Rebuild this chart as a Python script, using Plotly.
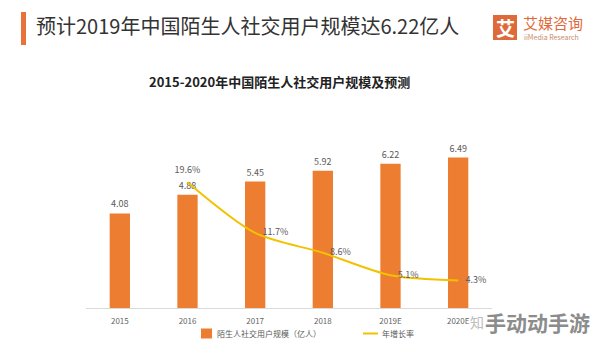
import plotly.graph_objects as go

categories = ["2015", "2016", "2017", "2018", "2019E", "2020E"]
users = [4.08, 4.88, 5.45, 5.92, 6.22, 6.49]
growth_cats = ["2016", "2017", "2018", "2019E", "2020E"]
growth = [19.6, 11.7, 8.6, 5.1, 4.3]
growth_labels = ["19.6%", "11.7%", "8.6%", "5.1%", "4.3%"]
growth_pos = ["top center", "middle right", "middle right", "middle right", "middle right"]

W, H = 594, 339
ML, MR, MT, MB = 86, 102, 100, 31
PW, PH = W - ML - MR, H - MT - MB

def px(x):
    return (x - ML) / PW

def py(y):
    return (H - MB - y) / PH

FONT = "Noto Sans CJK SC"
ORANGE = "#ED7D31"
YELLOW = "#F2C200"
LEG_Y = 333.5

fig = go.Figure()
fig.add_trace(go.Bar(
    x=categories, y=users, name="陌生人社交用户规模（亿人）",
    marker=dict(color=ORANGE, line=dict(width=0)),
    width=0.3,
    text=[f"{v:.2f}" for v in users], textposition="outside",
    textfont=dict(size=9, color="#595959", family=FONT),
    cliponaxis=False, showlegend=False,
))
fig.add_trace(go.Scatter(
    x=growth_cats, y=growth, name="年增长率", yaxis="y2",
    mode="lines+markers+text",
    line=dict(color=YELLOW, width=2, shape="spline", smoothing=0.8),
    marker=dict(size=10, color="rgba(0,0,0,0)", line=dict(width=0)),
    text=growth_labels, textposition=growth_pos,
    textfont=dict(size=9, color="#595959", family=FONT),
    cliponaxis=False, showlegend=False,
))

fig.update_layout(
    width=W, height=H,
    margin=dict(l=ML, r=MR, t=MT, b=MB, pad=0),
    paper_bgcolor="white", plot_bgcolor="white",
    font=dict(family=FONT, color="#595959"),
    bargap=0.7,
    xaxis=dict(
        type="category", categoryorder="array", categoryarray=categories,
        range=[-0.5, 5.5],
        showline=True, linecolor="#d9d9d9", linewidth=1,
        showgrid=False, zeroline=False,
        ticks="outside", ticklen=5, tickcolor="rgba(0,0,0,0)",
        tickfont=dict(size=8, color="#666666", family=FONT),
    ),
    yaxis=dict(range=[0, 8.97], visible=False, showgrid=False),
    yaxis2=dict(range=[0, 32.4], overlaying="y", side="right",
                visible=False, showgrid=False),
    shapes=[
        # header accent bar
        dict(type="rect", xref="paper", yref="paper",
             x0=px(21), x1=px(26), y0=py(45), y1=py(12),
             fillcolor="#E8713C", line=dict(width=0)),
        # logo square
        dict(type="rect", xref="paper", yref="paper",
             x0=px(493), x1=px(517), y0=py(40), y1=py(15),
             fillcolor="#DE6A3A", line=dict(width=0)),
        # legend swatches
        dict(type="rect", xref="paper", yref="paper",
             x0=px(201), x1=px(212), y0=py(LEG_Y + 5), y1=py(LEG_Y - 5),
             fillcolor=ORANGE, line=dict(width=0)),
        dict(type="line", xref="paper", yref="paper",
             x0=px(363), x1=px(378), y0=py(LEG_Y), y1=py(LEG_Y),
             line=dict(color=YELLOW, width=2)),
    ],
    annotations=[
        dict(text="预计2019年中国陌生人社交用户规模达6.22亿人",
             x=px(34), y=py(26), xref="paper", yref="paper",
             xanchor="left", yanchor="middle", showarrow=False,
             font=dict(size=20, color="#333333", family=FONT)),
        dict(text="艾", x=px(505), y=py(27.5), xref="paper", yref="paper",
             xanchor="center", yanchor="middle", showarrow=False,
             font=dict(size=19, color="white", family=FONT, weight="bold")),
        dict(text="艾媒咨询", x=px(521), y=py(22), xref="paper", yref="paper",
             xanchor="left", yanchor="middle", showarrow=False,
             font=dict(size=15, color="#DE6A3A", family=FONT)),
        dict(text="iiMedia Research", x=px(522), y=py(36.5), xref="paper", yref="paper",
             xanchor="left", yanchor="middle", showarrow=False,
             font=dict(size=7, color="#C98A6A", family=FONT)),
        dict(text="<b>2015-2020年中国陌生人社交用户规模及预测</b>",
             x=px(279), y=py(81), xref="paper", yref="paper",
             xanchor="center", yanchor="middle", showarrow=False,
             font=dict(size=13, color="#222222", family=FONT)),
        dict(text="陌生人社交用户规模（亿人）", x=px(215), y=py(LEG_Y),
             xref="paper", yref="paper", xanchor="left", yanchor="middle",
             showarrow=False, font=dict(size=8, color="#595959", family=FONT)),
        dict(text="年增长率", x=px(380), y=py(LEG_Y),
             xref="paper", yref="paper", xanchor="left", yanchor="middle",
             showarrow=False, font=dict(size=8, color="#595959", family=FONT)),
        dict(text="知", x=px(477), y=py(322), xref="paper", yref="paper",
             xanchor="center", yanchor="middle", showarrow=False,
             font=dict(size=14, color="#BDBDBD", family=FONT)),
        dict(text="<b>手动动手游</b>", x=px(537), y=py(322), xref="paper", yref="paper",
             xanchor="center", yanchor="middle", showarrow=False,
             font=dict(size=21, color="#8C8C8C", family=FONT)),
    ],
)

fig.write_html("out.html")
